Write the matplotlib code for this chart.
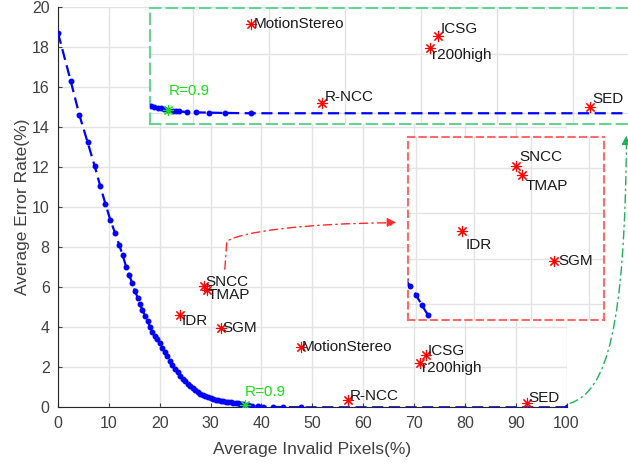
import matplotlib
matplotlib.use("Agg")
import matplotlib.pyplot as plt
from matplotlib.path import Path
from matplotlib.patches import FancyArrowPatch

plt.rcParams['font.family'] = ['Liberation Sans', 'DejaVu Sans']

# -------- data ----------
# error / invalid-pixel trade-off curve of the proposed method
curve_x = [0.0, 2.5, 4.2, 5.8, 7.2, 8.3, 9.3, 10.3, 11.2, 12.05, 12.7, 13.4,
           14.0, 14.6, 15.1, 15.7, 16.1, 16.6, 17.1, 17.6, 18.1, 18.5, 19.0,
           19.5, 20.0, 20.5, 21.0, 21.5, 22.0, 22.5, 23.0, 23.5, 24.0, 24.5,
           25.0, 25.5, 26.0, 26.5, 27.0, 27.5, 28.0, 28.5, 29.0, 29.5, 30.0,
           30.5, 31.0, 31.5, 32.0, 32.5, 33.0, 33.5, 34.0, 34.5, 34.95, 35.4,
           35.8, 36.3, 36.8, 37.4, 37.8, 38.2, 39.3, 40.4, 42.2, 44.2, 47.7,
           100.0]
curve_y = [18.7, 16.3, 14.6, 13.26, 12.06, 11.06, 10.18, 9.35, 8.72, 8.10,
           7.61, 7.02, 6.61, 6.19, 5.83, 5.45, 5.16, 4.86, 4.56, 4.31, 4.02,
           3.77, 3.55, 3.40, 3.20, 2.98, 2.77, 2.54, 2.33, 2.12, 1.93, 1.75,
           1.58, 1.43, 1.29, 1.16, 1.04, 0.94, 0.84, 0.76, 0.68, 0.61, 0.55,
           0.50, 0.45, 0.41, 0.37, 0.34, 0.31, 0.29, 0.27, 0.25, 0.24, 0.23,
           0.21, 0.19, 0.17, 0.15, 0.12, 0.09, 0.07, 0.06, 0.04, 0.03, 0.02,
           0.01, 0.0, 0.0]

# operating point R=0.9
r_x = 36.8
r_y = 0.12

# other methods
methods = ['SNCC', 'TMAP', 'IDR', 'SGM', 'MotionStereo', 'ICSG', 'r200high',
           'R-NCC', 'SED']
invalid = [28.7, 29.2, 24.0, 32.0, 47.7, 72.3, 71.2, 57.0, 92.2]
error = [6.05, 5.85, 4.6, 3.95, 3.0, 2.6, 2.2, 0.35, 0.2]

# text offsets (data units) for the method labels
label_dy = {'SNCC': 0.2, 'TMAP': -0.25, 'IDR': -0.3, 'SGM': 0.0,
            'MotionStereo': 0.0, 'ICSG': 0.22, 'r200high': -0.25,
            'R-NCC': 0.2, 'SED': 0.28}

TXT = '#262626'
GRID = '#e3e3e3'
ast = (8, 2, 0)   # asterisk marker


def draw(ax, xlim, ylim):
    ax.set_xlim(*xlim)
    ax.set_ylim(*ylim)
    inside = lambda x, y: xlim[0] <= x <= xlim[1] and ylim[0] <= y <= ylim[1]

    ax.plot(curve_x, curve_y, '--', color='b', marker='.', markersize=6.5,
            linewidth=1.6, dashes=(5, 2.5), zorder=3)
    for name, x, y in zip(methods, invalid, error):
        if not inside(x, y):
            continue
        ax.plot(x, y, linestyle='none', marker=ast, color='r', markersize=8,
                markeredgewidth=0.8, zorder=4)
        ax.text(x + 0.3, y + label_dy[name], name, fontsize=11,
                color='#1a1a1a', ha='left', va='center', zorder=5)
    if inside(r_x, r_y):
        ax.plot(r_x, r_y, linestyle='none', marker=ast, color='#19e019',
                markersize=8, markeredgewidth=0.8, zorder=5)
        ax.text(r_x, r_y + 0.62, 'R=0.9', fontsize=11, color='#19e019',
                ha='left', va='center', zorder=5)


fig = plt.figure(figsize=(6.28, 4.66), dpi=100)

# -------- main axes ----------
ax = fig.add_axes([0.0924, 0.126, 0.8097, 0.859])
draw(ax, (0, 100), (0, 20))
ax.set_xticks(range(0, 101, 10))
ax.set_yticks(range(0, 21, 2))
ax.grid(True, color=GRID, linewidth=1.0, zorder=0)
ax.set_axisbelow(True)
for s in ['top', 'right']:
    ax.spines[s].set_visible(False)
for s in ['left', 'bottom']:
    ax.spines[s].set_color(TXT)
    ax.spines[s].set_linewidth(0.8)
ax.tick_params(direction='in', length=3, width=0.8, colors='#404040',
               labelsize=11.5, pad=6)
ax.set_xlabel('Average Invalid Pixels(%)', fontsize=12.5, color='#404040',
              labelpad=8)
ax.set_ylabel('Average Error Rate(%)', fontsize=12.5, color='#404040',
              labelpad=1)

# pointer from the dense cluster to its zoomed view
red_path = Path([(32.8, 6.9), (33.2, 8.3), (36.0, 8.75), (48.0, 9.2),
                 (66.6, 9.22)],
                [Path.MOVETO, Path.LINETO, Path.CURVE4, Path.CURVE4,
                 Path.CURVE4])
ax.add_patch(FancyArrowPatch(path=red_path, arrowstyle='-|>',
                             mutation_scale=14, color='#ff2a2a',
                             linewidth=1.0, linestyle=(0, (6, 3, 1, 3)),
                             transform=ax.transData, clip_on=False, zorder=6))

# pointer from the flat tail to the top zoomed view
green_path = Path([(100.7, 0.2), (108.0, 0.8), (111.5, 4.0), (111.8, 13.6)],
                  [Path.MOVETO, Path.CURVE4, Path.CURVE4, Path.CURVE4])
ax.add_patch(FancyArrowPatch(path=green_path, arrowstyle='-|>',
                             mutation_scale=14, color='#22b05a',
                             linewidth=1.0, linestyle=(0, (6, 3, 1, 3)),
                             transform=ax.transData, clip_on=False, zorder=6))

# -------- zoom 1: flat tail ----------
ax1 = fig.add_axes([0.2389, 0.734, 0.7611, 0.249])
draw(ax1, (34.4, 97.2), (-0.36, 3.54))
ax1.set_xticks(range(40, 100, 10))
ax1.set_yticks([0, 2])

# -------- zoom 2: dense cluster ----------
ax2 = fig.add_axes([0.6497, 0.3133, 0.3121, 0.3927])
draw(ax2, (19.3, 36.3), (2.65, 6.68))
ax2.set_xticks([20, 25, 30, 35])
ax2.set_yticks([3, 4, 5, 6])

for a, col, dash in [(ax1, '#66d394', (0, (5, 3))),
                     (ax2, '#ff6b6b', (0, (3, 2.5)))]:
    a.grid(True, color=GRID, linewidth=1.0, zorder=0)
    a.set_axisbelow(True)
    a.tick_params(length=0, labelbottom=False, labelleft=False)
    for s in a.spines.values():
        s.set_color(col)
        s.set_linestyle(dash)
        s.set_linewidth(1.5)
ax1.spines['right'].set_visible(False)

fig.savefig('out.png', dpi=100)
